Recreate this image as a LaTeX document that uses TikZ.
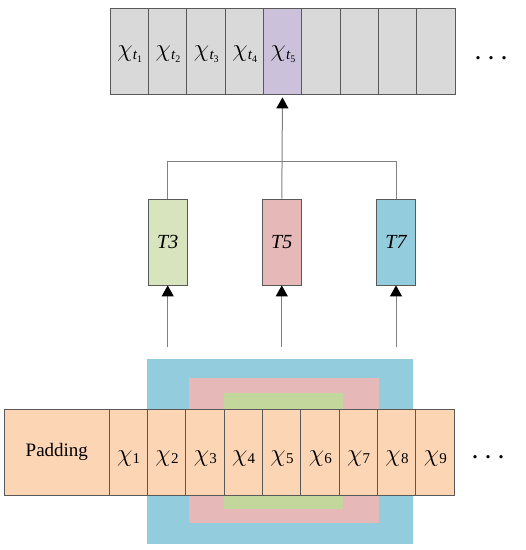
\documentclass[tikz,border=0pt]{standalone}
\usepackage{fontspec}
\setmainfont{Liberation Serif}
\usetikzlibrary{arrows.meta}
\definecolor{grayc}{HTML}{D9D9D9}
\definecolor{purpc}{HTML}{CCC1DA}
\definecolor{greenT}{HTML}{D7E4BD}
\definecolor{pinkc}{HTML}{E6B9B8}
\definecolor{bluec}{HTML}{93CDDD}
\definecolor{peachc}{HTML}{FCD5B5}
\definecolor{greenB}{HTML}{C3D69B}
\definecolor{bordc}{HTML}{595959}
\definecolor{linec}{HTML}{808080}
\newcommand{\xsub}[1]{{\fontsize{26}{26}\selectfont$\chi$}\kern0.3pt\raisebox{-2pt}{\fontsize{15}{15}\selectfont #1}}
\newcommand{\xtsub}[1]{{\fontsize{28}{28}\selectfont$\chi$}\kern0.3pt\raisebox{-3pt}{\fontsize{15}{15}\selectfont\itshape t}\raisebox{-6pt}{\fontsize{10}{10}\selectfont #1}}
\tikzset{
  cellbox/.style={draw=bordc, line width=0.8pt, minimum width=38.33pt, minimum height=86pt, inner sep=0pt, font=\fontsize{19}{19}\selectfont},
  tbox/.style={draw=bordc, line width=0.8pt, minimum width=39pt, minimum height=86pt, inner sep=0pt, font=\fontsize{20}{20}\selectfont\itshape},
  conn/.style={draw=linec, line width=1pt},
  arr/.style={conn, -{Triangle[length=11pt,width=12pt,fill=black,color=black]}},
  dots/.style={font=\fontsize{20}{20}\selectfont\bfseries, inner sep=0pt}
}
\begin{document}
\begin{tikzpicture}[x=1pt,y=-1pt]
\useasboundingbox (0,0) rectangle (526,550);
% top row
\foreach \i in {1,...,9} {
  \node[cellbox, fill=grayc] (top\i) at ({110+(\i-0.5)*38.33},51) {};
}
\node[cellbox, fill=purpc] (top5) at ({110+4.5*38.33},51) {};
\foreach \i in {1,...,5} {
  \node[inner sep=0pt] (tl\i) at ({110.5+(\i-0.5)*38.33},54) {\xtsub{\i}};
}
\node[dots] (tdots) at (491,58) {.\hspace{8pt}.\hspace{8pt}.};
% T boxes
\node[tbox, fill=greenT] (t3) at (167.7,242) {T3};
\node[tbox, fill=pinkc] (t5) at (281.8,242) {T5};
\node[tbox, fill=bluec] (t7) at (396,242) {T7};
% connectors top
\coordinate (bus) at (281.8,161.7);
\draw[conn] (t3.north) |- (bus) -| (t7.north);
\draw[arr, shorten >=3pt] (t5.north) -- (top5.south);
% bottom background rects
\fill[bluec] (147.3,359) rectangle (412.7,544);
\fill[pinkc] (188.7,377.7) rectangle (379.3,522.7);
\fill[greenB] (224,393.3) rectangle (342.7,509);
% bottom cells
\node[cellbox, fill=peachc, minimum width=104.3pt] (pad) at (56.85,452) {Padding};
\foreach \i in {1,...,9} {
  \node[cellbox, fill=peachc] (b\i) at ({109+(\i-0.5)*38.33},452) {};
  \node[inner sep=0pt] (bl\i) at ({109.5+(\i-0.5)*38.33},459) {\xsub{\i}};
}
\node[dots] (bdots) at (488,457) {.\hspace{8pt}.\hspace{8pt}.};
% bottom arrows
\coordinate (s3) at (167.7,347);
\coordinate (s5) at (281.8,347);
\coordinate (s7) at (396,347);
\draw[arr] (s3) -- (t3.south);
\draw[arr] (s5) -- (t5.south);
\draw[arr] (s7) -- (t7.south);
\end{tikzpicture}
\end{document}
